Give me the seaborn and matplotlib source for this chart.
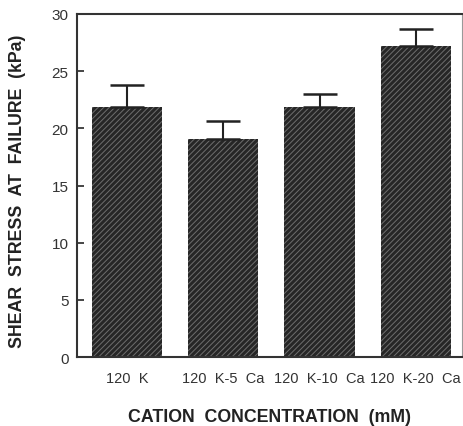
import matplotlib
matplotlib.use("Agg")
import matplotlib.pyplot as plt
import seaborn as sns
import numpy as np
import pandas as pd

categories = ["120  K", "120  K-5  Ca", "120  K-10  Ca", "120  K-20  Ca"]
means = [21.9, 19.1, 21.9, 27.2]
errors = [1.9, 1.5, 1.1, 1.5]
yticks = [0, 5, 10, 15, 20, 25, 30]

sns.set_theme(style="white")
plt.rcParams["font.family"] = ["Liberation Sans", "DejaVu Sans"]
plt.rcParams["hatch.linewidth"] = 0.7

df = pd.DataFrame({"cat": categories, "val": means})

fig = plt.figure(figsize=(4.63, 4.27), dpi=100)
ax = fig.add_axes([77/463, 1 - 358/427, 385/463, (358 - 15)/427])

sns.barplot(data=df, x="cat", y="val", color="#262626", errorbar=None,
            width=0.73, ax=ax, saturation=1)
for p in ax.patches:
    p.set_hatch("//////")
    p.set_edgecolor("#6e6e6e")
    p.set_linewidth(0.0)

x = np.arange(len(categories))
ax.errorbar(x, means, yerr=[np.zeros(len(errors)), errors], fmt="none",
            ecolor="#222222", elinewidth=1.5, capsize=12, capthick=1.8)

ax.set_xlim(-0.52, 3.48)
ax.set_ylim(0, 30)
ax.set_yticks(yticks)
ax.set_yticklabels([str(t) for t in yticks], fontsize=11, color="#333333")
ax.tick_params(axis="y", direction="in", length=5, width=1.2, left=True, pad=6)
ax.tick_params(axis="x", length=0, pad=10, labelsize=10.5, labelcolor="#333333")

for s in ["left", "bottom", "top"]:
    ax.spines[s].set_linewidth(1.5)
    ax.spines[s].set_color("#333333")
ax.spines["right"].set_linewidth(0.8)
ax.spines["right"].set_color("#999999")

ax.set_xlabel("CATION  CONCENTRATION  (mM)", fontsize=12.8, fontweight="bold",
              color="#222222", labelpad=17)
ax.set_ylabel("SHEAR  STRESS  AT  FAILURE  (kPa)", fontsize=12.8, fontweight="bold",
              color="#222222")
ax.yaxis.set_label_coords(-51/385, 0.485)

fig.savefig("out.png", dpi=100)
